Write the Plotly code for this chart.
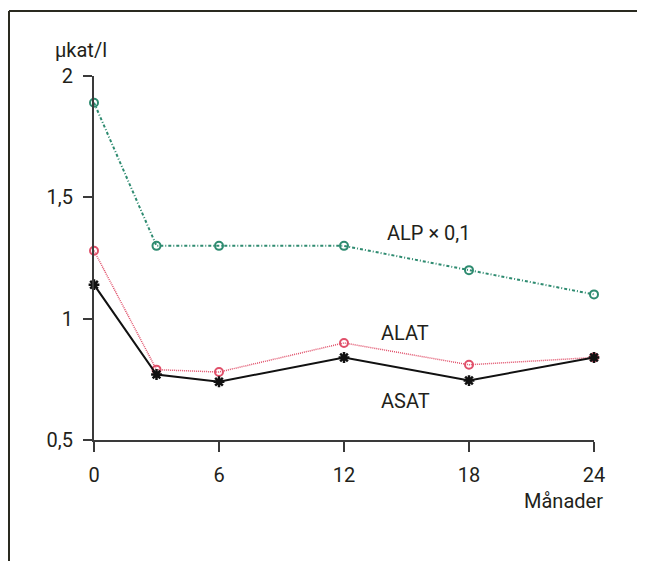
import plotly.graph_objects as go

months = [0, 3, 6, 12, 18, 24]
alp = [1.89, 1.30, 1.30, 1.30, 1.20, 1.10]
alat = [1.28, 0.79, 0.78, 0.90, 0.81, 0.84]
asat = [1.14, 0.77, 0.74, 0.84, 0.745, 0.84]
x_ticks = [0, 6, 12, 18, 24]
y_ticks = [0.5, 1, 1.5, 2]
y_tick_labels = ["0,5", "1", "1,5", "2"]

FONT = "Roboto, Liberation Sans, sans-serif"
TXT = "#231f1a"
FS = 20

fig = go.Figure()
fig.add_trace(go.Scatter(
    x=months, y=alp, mode="lines+markers", cliponaxis=False,
    line=dict(color="#2e8b70", width=2, dash="3px,2px,1px,2px"),
    marker=dict(symbol="circle-open", size=8, color="#2e8b70", line=dict(width=2))))
fig.add_trace(go.Scatter(
    x=months, y=alat, mode="lines+markers", cliponaxis=False,
    line=dict(color="#e0506a", width=1.5, dash="1px,1px"),
    marker=dict(symbol="circle-open", size=8, color="#e0506a", line=dict(width=2))))
fig.add_trace(go.Scatter(
    x=months, y=asat, mode="lines+markers", cliponaxis=False,
    line=dict(color="#111111", width=2),
    marker=dict(symbol="asterisk-open", size=9, color="#111111", line=dict(width=2.5))))

# page is offset by the 8px default body margin
OFF = 8
W, H = 645 - OFF, 561 - OFF
L, R, T, B = 94 - OFF, 51, 76 - OFF, 121
pw, ph = W - L - R, H - T - B

def px(x):
    return (x - OFF - L) / pw

def py(y):
    return (H - B - (y - OFF)) / ph

fig.add_shape(type="line", xref="paper", yref="paper",
              x0=px(9), x1=px(645), y0=py(11), y1=py(11),
              line=dict(color="#2a2a20", width=2))
fig.add_shape(type="line", xref="paper", yref="paper",
              x0=px(9), x1=px(9), y0=py(11), y1=py(561),
              line=dict(color="#2a2a20", width=2))

ann = [("µkat/l", 81, 50), ("Månader", 563, 501), ("ALP × 0,1", 428, 233),
       ("ALAT", 405, 333), ("ASAT", 405, 401)]
for t, xx, yy in ann:
    fig.add_annotation(text=t, xref="paper", yref="paper", x=px(xx), y=py(yy),
                       showarrow=False, xanchor="center", yanchor="middle",
                       font=dict(family=FONT, size=FS, color=TXT))

fig.update_layout(
    width=W, height=H, margin=dict(l=L, r=R, t=T, b=B),
    paper_bgcolor="white", plot_bgcolor="white", showlegend=False,
    font=dict(family=FONT, size=FS, color=TXT),
    xaxis=dict(range=[0, 24], tickvals=x_ticks, showgrid=False, zeroline=False,
               showline=True, linecolor="#3a3a3a", linewidth=2,
               ticks="outside", ticklen=10, tickwidth=2, tickcolor="#3a3a3a",
               ticklabelstandoff=6,
               tickfont=dict(family=FONT, size=FS, color=TXT)),
    yaxis=dict(range=[0.5, 2], tickvals=y_ticks, ticktext=y_tick_labels,
               showgrid=False, zeroline=False,
               showline=True, linecolor="#3a3a3a", linewidth=2,
               ticks="outside", ticklen=9, tickwidth=2, tickcolor="#3a3a3a",
               ticklabelstandoff=6,
               tickfont=dict(family=FONT, size=FS, color=TXT)),
)

fig.write_html("out.html")
